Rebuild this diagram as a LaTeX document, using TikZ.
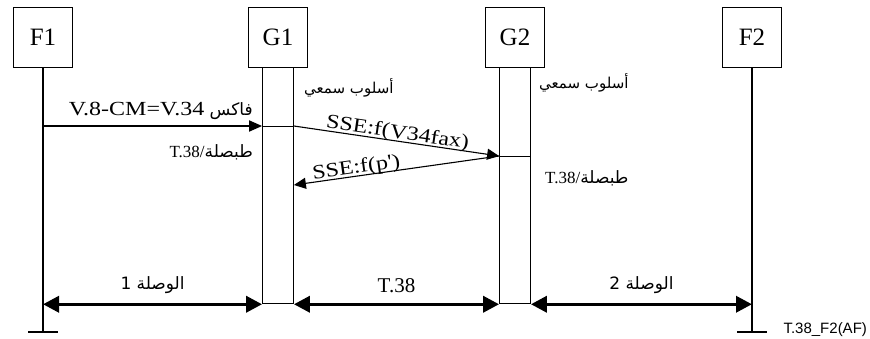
\documentclass[tikz,border=0pt]{standalone}
\usepackage{fontspec}
\setmainfont{Liberation Serif}
\newfontfamily\widefont{Liberation Serif}[FakeStretch=1.2]
\newfontfamily\arabicfont[Script=Arabic]{DejaVu Sans}
\newfontfamily\tagfont{Liberation Sans}
\TeXXeTstate=1
\usetikzlibrary{arrows.meta}

\tikzset{
  entity/.style={draw, line width=0.9pt, minimum width=59pt, minimum height=60pt, inner sep=0pt, font=\fontsize{25}{27}\selectfont},
  gwbar/.style={draw, line width=0.8pt, minimum width=31pt, minimum height=236pt, inner sep=0pt, anchor=north},
  lifeline/.style={line width=2pt},
  msg/.style={line width=1.8pt, -{Triangle[length=13pt,width=11pt]}},
  sse/.style={line width=1.1pt, -{Triangle[length=12pt,width=11pt]}},
  link/.style={line width=3.5pt, {Triangle[length=16pt,width=16pt]}-{Triangle[length=16pt,width=16pt]}},
  lbl/.style={font=\fontsize{20}{22}\widefont, inner sep=1pt},
  ar/.style={font=\fontsize{17}{19}\arabicfont, inner sep=0pt},
  mode/.style={font=\fontsize{15}{17}\arabicfont, inner sep=0pt, anchor=base west},
}

\begin{document}
\begin{tikzpicture}[x=1pt,y=-1pt]
  \useasboundingbox (0,0) rectangle (870,338);

  % Entities
  \node[entity] (F1) at (43,37) {F1};
  \node[entity] (G1) at (278,37) {G1};
  \node[entity] (G2) at (515,37) {G2};
  \node[entity] (F2) at (752,37) {F2};

  % Gateway bars
  \node[gwbar] (g1bar) at (G1.south) {};
  \node[gwbar] (g2bar) at (G2.south) {};

  % Lifelines
  \coordinate (f1end) at (43,332);
  \coordinate (f2end) at (752,332);
  \draw[lifeline] (F1.south) -- (f1end);
  \draw[lifeline] (F2.south) -- (f2end);
  \draw[line width=1.2pt] ([xshift=-15pt]f1end) -- ([xshift=15pt]f1end);
  \draw[line width=1.2pt] ([xshift=-15pt]f2end) -- ([xshift=15pt]f2end);

  % Messages
  \coordinate (m1) at (43,126);
  \coordinate (m2) at (515,156);
  \coordinate (m3) at (278,185);
  \draw[msg] (m1) -- (m1 -| g1bar.west);
  \draw[line width=0.8pt] (m1 -| g1bar.west) -- (m1 -| g1bar.east);
  \draw[sse] (m1 -| g1bar.east) -- (m2 -| g2bar.west)
    node[lbl, sloped, midway, above=-3pt] {SSE:f(V34fax)};
  \draw[line width=0.8pt] (m2 -| g2bar.west) -- (m2 -| g2bar.east);
  \draw[sse] (m2 -| g2bar.west) -- (m3 -| g1bar.east)
    node[lbl, sloped, pos=0.69, above=-3pt] {SSE:f(p')};

  % Labels
  \node[ar, anchor=base east] (fax) at (253,115)
    {\beginR فاكس \beginL{\fontsize{20}{22}\widefont V.8-CM=V.34}\endL\endR};
  \node[ar, anchor=base east] (g1t38) at (253,157)
    {\beginR طبصلة\beginL{\rmfamily\fontsize{17}{19}\selectfont T.38/}\endL\endR};
  \node[mode] (g1mode) at (304,93) {\beginR أسلوب سمعي\endR};
  \node[mode] (g2mode) at (539,88) {\beginR أسلوب سمعي\endR};
  \node[ar, anchor=base west] (g2t38) at (545,183)
    {\beginR طبصلة\beginL{\rmfamily\fontsize{17}{19}\selectfont T.38/}\endL\endR};

  % Links
  \draw[link] (g1bar.south west -| f1end) -- (g1bar.south west)
    node[ar, midway, above=9pt] {\beginR الوصلة 1\endR};
  \draw[link] (g1bar.south east) -- (g2bar.south west)
    node[font=\fontsize{21}{23}\selectfont, inner sep=1pt, midway, above=9pt] {T.38};
  \draw[link] (g2bar.south east) -- (g2bar.south east -| f2end)
    node[ar, midway, above=9pt] {\beginR الوصلة 2\endR};

  \node[font=\fontsize{15}{17}\tagfont, anchor=west] (tag) at (780,330) {T.38\_F2(AF)};
\end{tikzpicture}
\end{document}
